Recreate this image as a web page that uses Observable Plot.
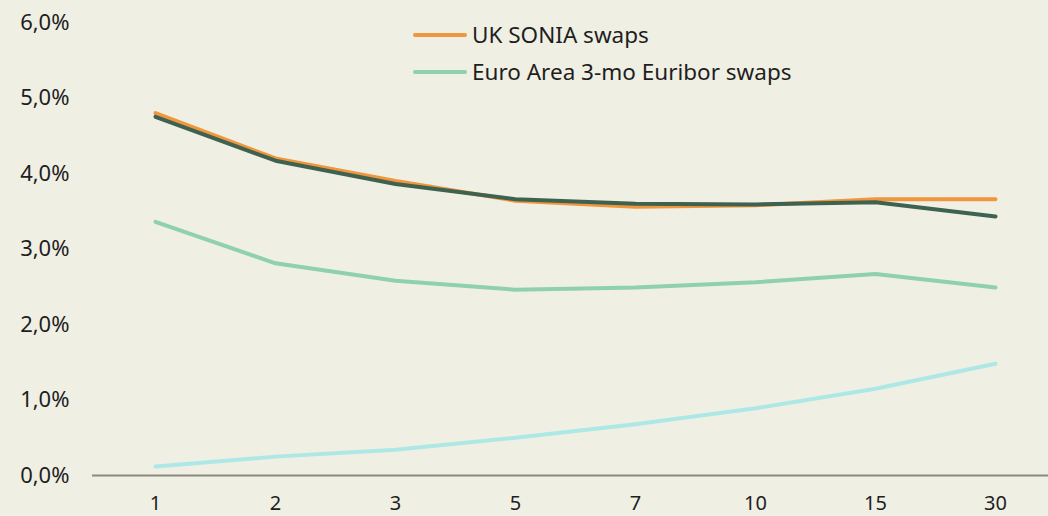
<!DOCTYPE html>
<html>
<head>
<meta charset="utf-8">
<script src="https://cdn.jsdelivr.net/npm/d3@7"></script>
<script src="https://cdn.jsdelivr.net/npm/@observablehq/plot@0.6"></script>
<style>
  html, body { margin: 0; padding: 0; background: #f0efe4; }
  #wrap { position: relative; width: 1048px; height: 516px; background: #f0efe4; font-family: "Noto Sans", sans-serif; }
  #legend { position: absolute; left: 413px; top: 16px; font-size: 22.5px; color: #1e1e1e; }
  .item { display: flex; align-items: center; height: 37px; }
  .sw { width: 54px; height: 4px; border-radius: 2px; margin-right: 5px; }
</style>
</head>
<body>
<div id="wrap"><div id="legend"></div></div>
<script>
const maturities = ["1", "2", "3", "5", "7", "10", "15", "30"];
const ukSonia    = [4.80, 4.20, 3.90, 3.64, 3.56, 3.58, 3.66, 3.66];
const darkSeries = [4.75, 4.17, 3.86, 3.66, 3.60, 3.59, 3.62, 3.43];
const euribor    = [3.36, 2.81, 2.58, 2.46, 2.49, 2.56, 2.67, 2.49];
const cyanSeries = [0.12, 0.25, 0.34, 0.50, 0.68, 0.89, 1.15, 1.48];
const yTicks = [0, 1, 2, 3, 4, 5, 6];

const seriesList = [
  {name: "UK SONIA swaps", values: ukSonia, color: "#f0963c", legend: true},
  {name: "Euro Area 3-mo Euribor swaps", values: euribor, color: "#8fd0ae", legend: true},
  {name: "cyan", values: cyanSeries, color: "#aee8e6", legend: false},
  {name: "dark", values: darkSeries, color: "#3f6250", legend: false}
];

const rows = seriesList.flatMap(s => maturities.map((m, i) => ({series: s.name, m, v: s.values[i]})));

const fmt = d => d.toFixed(1).replace(".", ",") + "%";

const chart = Plot.plot({
  width: 1048,
  height: 516,
  marginLeft: 92,
  marginRight: 0,
  marginTop: 22,
  marginBottom: 41,
  style: {background: "#f0efe4", fontFamily: "Noto Sans, sans-serif", fontSize: "22px", color: "#1e1e1e"},
  x: {type: "point", domain: maturities, range: [152, 997], padding: 0, label: null},
  y: {domain: [0, 6], label: null},
  marks: [
    Plot.axisY(yTicks, {tickSize: 0, tickPadding: 23, tickFormat: fmt, fontSize: 22}),
    Plot.axisX(maturities, {tickSize: 0, tickPadding: 20, fontSize: 20}),
    Plot.ruleY([0], {stroke: "#8a8a80", strokeWidth: 2}),
    ...seriesList.map(s =>
      Plot.line(rows.filter(r => r.series === s.name), {
        x: "m", y: "v", stroke: s.color, strokeWidth: 4, curve: "linear", strokeLinecap: "round", strokeLinejoin: "round"
      })
    )
  ]
});
document.getElementById("wrap").prepend(chart);
chart.style.position = "absolute";
chart.style.left = "0";
chart.style.top = "0";

const legend = document.getElementById("legend");
for (const s of seriesList.filter(s => s.legend)) {
  const item = document.createElement("div");
  item.className = "item";
  const sw = document.createElement("div");
  sw.className = "sw";
  sw.style.background = s.color;
  const t = document.createElement("span");
  t.textContent = s.name;
  item.append(sw, t);
  legend.append(item);
}
</script>
</body>
</html>
